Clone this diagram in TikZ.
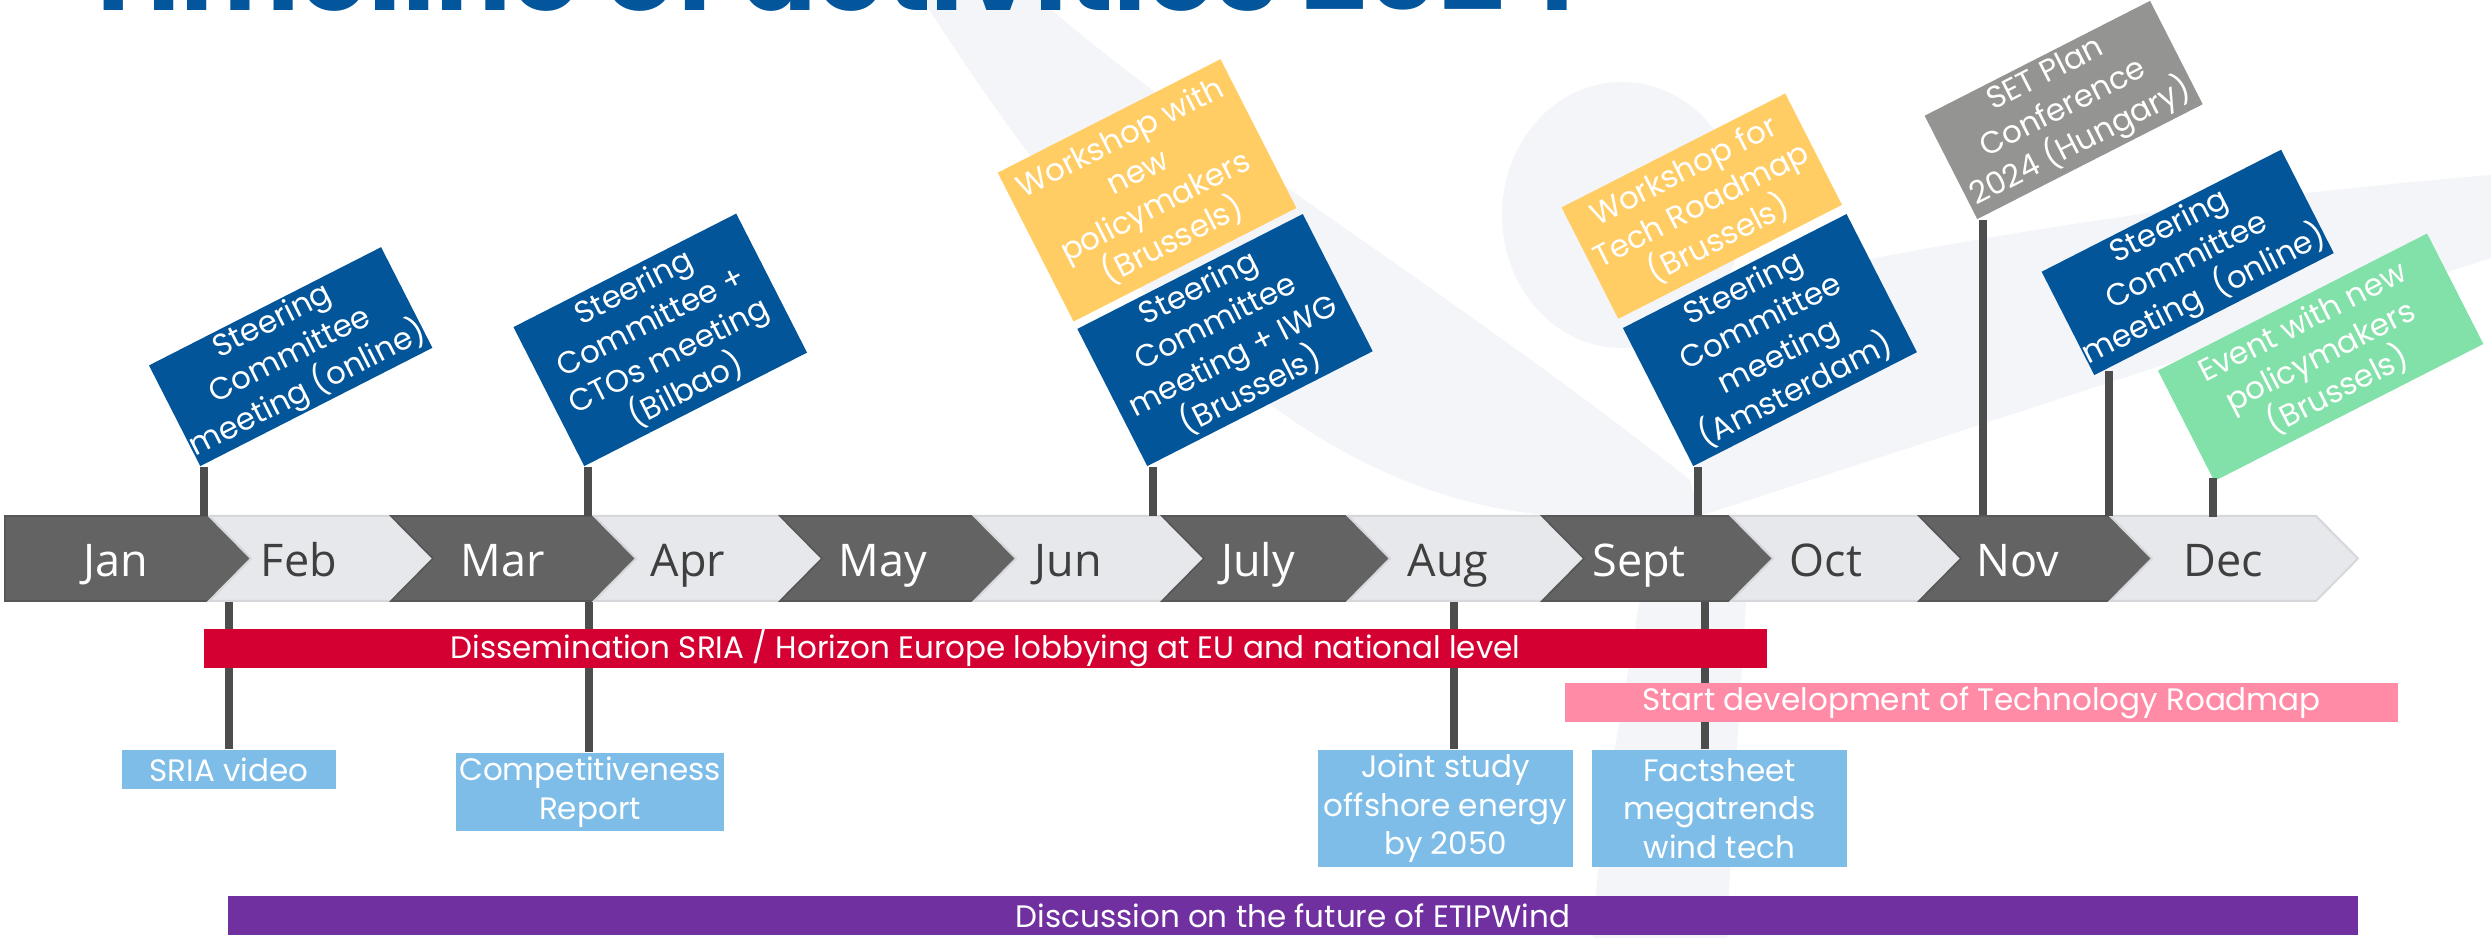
\documentclass[tikz,border=0pt]{standalone}
\usepackage{fontspec}
\usepackage{graphicx}
\setmainfont{Poppins}
\newfontfamily\monthfont{Open Sans}
\usetikzlibrary{calc}
\definecolor{dk}{HTML}{636363}
\definecolor{dkline}{HTML}{575757}
\definecolor{lt}{HTML}{E7E8EC}
\definecolor{ltline}{HTML}{D6D7DB}
\definecolor{dktxt}{HTML}{3F3F3F}
\definecolor{polec}{HTML}{4D4D4D}
\definecolor{eblue}{HTML}{03559A}
\definecolor{eyellow}{HTML}{FFCD63}
\definecolor{egray}{HTML}{949593}
\definecolor{egreen}{HTML}{82E1A8}
\definecolor{ered}{HTML}{D50032}
\definecolor{epink}{HTML}{FF8BA6}
\definecolor{epurple}{HTML}{7030A0}
\definecolor{elblue}{HTML}{7EBDE8}
\definecolor{wm}{HTML}{F4F5F8}
\definecolor{ttl}{HTML}{03569B}
\newcommand\flagfont{\fontsize{9.3pt}{11.55pt}\selectfont}
\newcommand\mfont{\monthfont\fontsize{13.5pt}{16pt}\selectfont}
\begin{document}
\begin{tikzpicture}[x=0.3pt,y=-0.3pt,
  fw/.style={minimum width=#1*0.3pt},
  fh/.style={minimum height=#1*0.3pt},
  flag/.style={rectangle, inner sep=0pt, anchor=south west, rotate=27, align=center, text=white, font=\flagfont},
  barbox/.style={rectangle, inner sep=0pt, align=center, text=white, font=\flagfont},
  lbbox/.style={barbox, fill=elblue},
  polel/.style={draw=polec, line width=2.4pt},
  dkchev/.style={fill=dk, draw=dkline, line width=0.5pt},
  ltchev/.style={fill=lt, draw=ltline, line width=0.6pt},
  dklab/.style={text=white, font=\mfont, anchor=base, inner sep=0pt},
  ltlab/.style={text=dktxt, font=\mfont, anchor=base, inner sep=0pt}]
\useasboundingbox (0,0) rectangle (2491,938);
\clip (0,0) rectangle (2491,938);
\fill[white] (0,0) rectangle (2491,938);
% watermark
\fill[wm] (923,0) .. controls (1090,260) and (1290,500) .. (1560,516) -- (1700,516) -- (1690,480) .. controls (1450,290) and (1200,140) .. (1040,0) -- cycle;
\fill[wm] (1622,215) ellipse [x radius=120, y radius=133];
\fill[wm] (1680,300) .. controls (1950,235) and (2250,195) .. (2491,175) -- (2491,258) -- (1700,516) -- cycle;
\fill[wm] (1648,540) -- (1750,540) .. controls (1740,700) and (1730,850) .. (1727,938) -- (1593,938) .. controls (1600,800) and (1630,680) .. (1648,540) -- cycle;
% title
\node[anchor=base west, text=ttl, inner sep=0pt] (title) at (80,11) {\resizebox{450pt}{!}{\bfseries Timeline of activities 2024}};
% poles below the bar
\node[lbbox, fw=214, fh=39] (sria) at (229,769.5) {SRIA video};
\node[lbbox, fw=268, fh=78] (comp) at (590,792) {Competitiveness\\Report};
\node[lbbox, fw=255, fh=117] (joint) at (1445.5,808.5) {Joint study\\offshore energy\\by 2050};
\node[lbbox, fw=255, fh=117] (fact) at (1719.5,808.5) {Factsheet\\megatrends\\wind tech};
\coordinate (b2) at (229,601);
\coordinate (b3) at (589,601);
\coordinate (b8) at (1454,601);
\coordinate (b9) at (1705,601);
\draw[polel] (b2) -- (b2 |- sria.north);
\draw[polel] (b3) -- (b3 |- comp.north);
\draw[polel] (b8) -- (b8 |- joint.north);
\draw[polel] (b9) -- (b9 |- fact.north);
% month chevrons
\draw[dkchev] (5,516) -- (209,516) -- (251,558.5) -- (209,601) -- (5,601) -- cycle;
\node[dklab] (mJan) at (116,577) {Jan};
\foreach \L/\R/\st/\lab/\cx in {209/391/lt/Feb/299, 391/594/dk/Mar/503, 594/780/lt/Apr/688, 780/974/dk/May/883, 974/1162/lt/Jun/1068, 1162/1348/dk/July/1258, 1348/1542/lt/Aug/1448, 1542/1731/dk/Sept/1639, 1731/1919/lt/Oct/1826, 1919/2110/dk/Nov/2018, 2110/2316/lt/Dec/2223}{
  \draw[\st chev] (\L,516) -- (\R,516) -- (\R+42,558.5) -- (\R,601) -- (\L,601) -- (\L+42,558.5) -- cycle;
  \node[\st lab] (m\lab) at (\cx,577) {\lab};
}
% flags
\node[flag, fill=eblue, fw=254, fh=113] (f1) at (200,467) {Steering\\Committee\\meeting (online)};
\node[flag, fill=eblue, fw=250, fh=156] (f2) at (584,467) {Steering\\Committee +\\CTOs meeting\\(Bilbao)};
\node[flag, fill=eblue, fw=253, fh=154] (f3b) at (1147,467) {Steering\\Committee\\meeting + IWG\\(Brussels)};
\node[flag, fill=eyellow, fw=250, fh=167] (f3y) at ($(f3b.north west)+(-3.2,-6.2)$) {Workshop with\\new\\policymakers\\(Brussels)};
\node[flag, fill=eblue, fw=251, fh=155] (f4b) at (1693,467) {Steering\\Committee\\meeting\\(Amsterdam)};
\node[flag, fill=eyellow, fw=251, fh=125] (f4y) at ($(f4b.north west)+(-4,-8)$) {Workshop for\\Tech Roadmap\\(Brussels)};
\node[flag, fill=egray, fw=253, fh=116] (f5) at (1977,220) {SET Plan\\Conference\\2024 (Hungary)};
\node[flag, fill=eblue, fw=254, fh=116] (f6) at (2094,376) {Steering\\Committee\\meeting~~(online)};
\node[flag, fill=egreen, fw=302, fh=124] (f7) at (2214,482) {Event with new\\policymakers\\(Brussels)};
\coordinate (t1) at (204,516);
\coordinate (t2) at (588,516);
\coordinate (t3) at (1153,516);
\coordinate (t4) at (1698,515);
\coordinate (t5) at (1983,515);
\coordinate (t6) at (2109,516);
\coordinate (t7) at (2213,517);
\draw[polel] (f1.south west -| t1) -- (t1);
\draw[polel] (f2.south west -| t2) -- (t2);
\draw[polel] (f3b.south west -| t3) -- (t3);
\draw[polel] (f4b.south west -| t4) -- (t4);
\draw[polel] (f5.south west -| t5) -- (t5);
\draw[polel] ($(f6.south west -| t6)+(0,-5)$) -- (t6);
\draw[polel] ($(f7.south west -| t7)+(0,-4)$) -- (t7);
% bars
\node[barbox, fill=ered, fw=1563, fh=39] (red) at (985.5,648.5) {Dissemination SRIA / Horizon Europe lobbying at EU and national level};
\node[barbox, fill=epink, fw=833, fh=39] (pink) at (1981.5,702.5) {Start development of Technology Roadmap};
\node[barbox, fill=epurple, fw=2130, fh=39] (purple) at (1293,915.5) {Discussion on the future of ETIPWind};
\end{tikzpicture}
\end{document}
